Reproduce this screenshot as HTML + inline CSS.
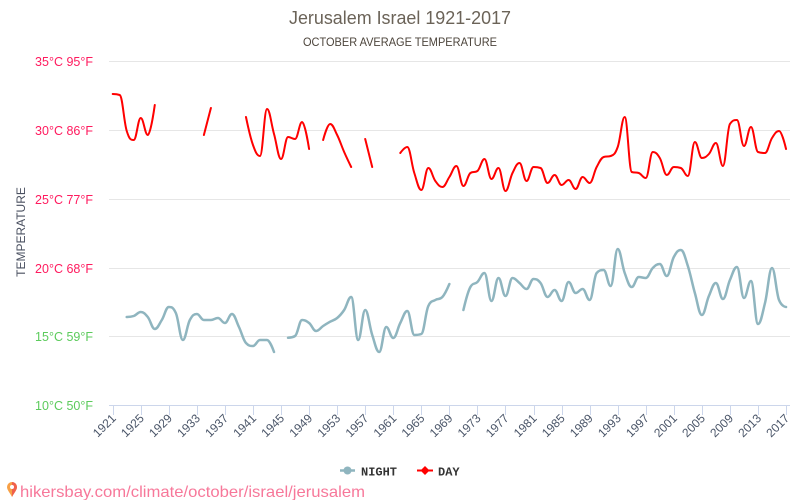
<!DOCTYPE html>
<html><head><meta charset="utf-8">
<style>
html,body{margin:0;padding:0;background:#fff;}
body{width:800px;height:500px;overflow:hidden;}
svg{display:block;font-family:"Liberation Sans",sans-serif;}
</style></head>
<body>
<svg id="c" width="800" height="500" viewBox="0 0 800 500" xmlns="http://www.w3.org/2000/svg">
<rect width="800" height="500" fill="#fff"/>
<text x="400" y="24" text-anchor="middle" font-size="18" fill="#6b6358" textLength="222" lengthAdjust="spacingAndGlyphs">Jerusalem Israel 1921-2017</text>
<text x="400" y="46" text-anchor="middle" font-size="12" fill="#4d453c" textLength="194" lengthAdjust="spacingAndGlyphs">OCTOBER AVERAGE TEMPERATURE</text>
<g stroke="#e6e6e6" stroke-width="1">
<line x1="109" y1="61.5" x2="790" y2="61.5"/>
<line x1="109" y1="130.5" x2="790" y2="130.5"/>
<line x1="109" y1="199.5" x2="790" y2="199.5"/>
<line x1="109" y1="268.5" x2="790" y2="268.5"/>
<line x1="109" y1="336.5" x2="790" y2="336.5"/>
</g>
<line x1="109" y1="405.5" x2="790" y2="405.5" stroke="#ccd6eb" stroke-width="1"/>
<g font-size="12.5" text-anchor="end">
<text x="93" y="66" fill="#ff1a5e">35°C 95°F</text>
<text x="93" y="135" fill="#ff1a5e">30°C 86°F</text>
<text x="93" y="204" fill="#ff1a5e">25°C 77°F</text>
<text x="93" y="273" fill="#ff1a5e">20°C 68°F</text>
<text x="93" y="341" fill="#5ccb5c">15°C 59°F</text>
<text x="93" y="410" fill="#5ccb5c">10°C 50°F</text>
</g>
<text transform="translate(25,232) rotate(-90)" text-anchor="middle" font-size="12" fill="#4a5060">TEMPERATURE</text>
<g id="ticks" stroke="#ccd6eb" stroke-width="1"></g>
<g id="xl" font-size="12" fill="#4a5568" text-anchor="end"></g>
<path id="night" fill="none" stroke="#8fb5bf" stroke-width="2.5" stroke-linejoin="round" stroke-linecap="round"/>
<path id="day" fill="none" stroke="#ff0000" stroke-width="2" stroke-linejoin="round" stroke-linecap="round"/>
<!-- legend -->
<line x1="340" y1="470.5" x2="355" y2="470.5" stroke="#8fb5bf" stroke-width="2.5"/>
<circle cx="347.5" cy="470.5" r="4" fill="#8fb5bf"/>
<text x="361" y="475.5" font-family="Liberation Mono, monospace" font-weight="bold" font-size="12" fill="#333">NIGHT</text>
<line x1="417" y1="470.5" x2="433" y2="470.5" stroke="#ff0000" stroke-width="2"/>
<path d="M425 466 L429.5 470.5 L425 475 L420.5 470.5 Z" fill="#ff0000"/>
<text x="438" y="475.5" font-family="Liberation Mono, monospace" font-weight="bold" font-size="12" fill="#333">DAY</text>
<!-- footer -->
<path d="M12 482 a5 5 0 0 1 5 5 c0 3 -3 6 -5 10 c-2 -4 -5 -7 -5 -10 a5 5 0 0 1 5 -5z" fill="#f7a046"/>
<path d="M12 482 a5 5 0 0 1 5 5 c0 3 -3 6 -5 10 z" fill="#f0604c"/>
<circle cx="12" cy="487" r="2" fill="#fff"/>
<text x="20" y="497" font-size="16" fill="#f7789a" textLength="345" lengthAdjust="spacingAndGlyphs">hikersbay.com/climate/october/israel/jerusalem</text>
</svg>
<script>
(function(){
var NS="http://www.w3.org/2000/svg";
var x0=112.7, dx=7.014;
function X(y){return x0+(y-1921)*dx;}
var ticks=document.getElementById('ticks'), xl=document.getElementById('xl');
for(var yr=1921;yr<=2017;yr+=4){
  var x=Math.round(X(yr))+0.5;
  var l=document.createElementNS(NS,'line');
  l.setAttribute('x1',x);l.setAttribute('x2',x);l.setAttribute('y1',405);l.setAttribute('y2',415);
  ticks.appendChild(l);
  var t=document.createElementNS(NS,'text');
  var tx=X(yr)+4, ty=419;
  t.setAttribute('x',tx);t.setAttribute('y',ty);
  t.setAttribute('transform','rotate(-45 '+tx+' '+ty+')');
  t.textContent=yr;
  xl.appendChild(t);
}
var N=null;
var day=[94,95,131,140,118,135,105,N,N,N,N,N,N,135,108,N,N,N,N,117,145,156,109,134,159,137,139,122,149,N,140,124,135,152,167,N,139,167,N,N,N,153,147,173,190,168,181,187,177,166,186,173,171,159,179,168,191,173,163,181,167,168,183,175,185,180,189,177,183,167,157,156,147,117,172,173,178,152,158,175,167,168,176,142,158,154,143,166,124,120,146,127,152,153,138,131,149];
var night=[N,N,317,316,312,317,329,320,307,313,340,320,314,320,320,318,323,314,327,343,346,340,340,352,N,337.7,336,320,323,331,326,321.7,318,310,297,340,310,335,352,327,338,323,311,335,334,306,300,297,284,N,310,287,282,273,301,278,296,278,283,289,279,283,297,290,301,282,293,289,300,273,270,286,249,273,287,277,278,268,264,276,257,250,266,293,315,296,283,299,280,267,298,281,324,303,268,300,307];
function path(arr){
  var segs=[],cur=[];
  for(var i=0;i<arr.length;i++){
    if(arr[i]===null){if(cur.length)segs.push(cur);cur=[];}
    else cur.push({x:X(1921+i),y:arr[i]});
  }
  if(cur.length)segs.push(cur);
  var d='';
  var sm=1.5,den=2.5;
  segs.forEach(function(p){
    d+='M'+p[0].x.toFixed(2)+' '+p[0].y.toFixed(2);
    for(var i=1;i<p.length;i++){
      var pt=p[i],last=p[i-1],next=p[i+1];
      var lcx=pt.x,lcy=pt.y;
      if(next){
        lcx=(sm*pt.x+last.x)/den; lcy=(sm*pt.y+last.y)/den;
        var rcx=(sm*pt.x+next.x)/den, rcy=(sm*pt.y+next.y)/den;
        var corr=((rcy-lcy)*(rcx-pt.x))/(rcx-lcx)+pt.y-rcy;
        lcy+=corr; rcy+=corr;
        if(lcy>last.y&&lcy>pt.y){lcy=Math.max(last.y,pt.y);rcy=2*pt.y-lcy;}
        else if(lcy<last.y&&lcy<pt.y){lcy=Math.min(last.y,pt.y);rcy=2*pt.y-lcy;}
        if(rcy>next.y&&rcy>pt.y){rcy=Math.max(next.y,pt.y);lcy=2*pt.y-rcy;}
        else if(rcy<next.y&&rcy<pt.y){rcy=Math.min(next.y,pt.y);lcy=2*pt.y-rcy;}
        pt.rcx=rcx;pt.rcy=rcy;
      }
      var a=(last.rcx!==undefined)?last.rcx:last.x, b=(last.rcy!==undefined)?last.rcy:last.y;
      d+='C'+a.toFixed(2)+' '+b.toFixed(2)+' '+lcx.toFixed(2)+' '+lcy.toFixed(2)+' '+pt.x.toFixed(2)+' '+pt.y.toFixed(2);
    }
  });
  return d;
}
document.getElementById('day').setAttribute('d',path(day));
document.getElementById('night').setAttribute('d',path(night));
})();
</script>
</body></html>
